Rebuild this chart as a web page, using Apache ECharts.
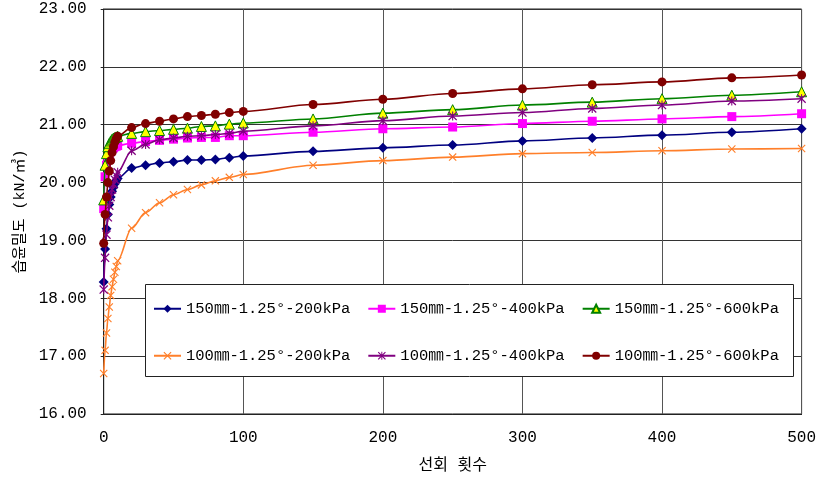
<!DOCTYPE html>
<html><head><meta charset="utf-8">
<script src="https://cdn.jsdelivr.net/npm/echarts@6/dist/echarts.min.js"></script>
<style>html,body{margin:0;padding:0;background:#fff}#c{width:819px;height:479px}</style>
</head><body><div id="c"></div>
<script>
// number of gyrations (x)
const cycles = [0,1,2,3,4,5,6,7,8,9,10,20,30,40,50,60,70,80,90,100,150,200,250,300,350,400,450,500];
const seriesNames = ['150㎜-1.25°-200kPa','150㎜-1.25°-400kPa','150㎜-1.25°-600kPa','100㎜-1.25°-200kPa','100㎜-1.25°-400kPa','100㎜-1.25°-600kPa'];
const s150_200 = [18.28,18.85,19.20,19.45,19.62,19.75,19.85,19.92,19.98,20.03,20.07,20.25,20.30,20.34,20.36,20.39,20.39,20.40,20.43,20.46,20.54,20.60,20.65,20.72,20.77,20.82,20.87,20.93];
const s150_400 = [19.55,20.10,20.30,20.42,20.50,20.55,20.58,20.60,20.62,20.63,20.64,20.68,20.71,20.73,20.75,20.77,20.78,20.78,20.81,20.81,20.87,20.93,20.96,21.02,21.06,21.10,21.14,21.19];
const s150_600 = [19.70,20.30,20.50,20.62,20.68,20.72,20.75,20.77,20.78,20.79,20.80,20.85,20.88,20.90,20.92,20.94,20.97,20.98,21.01,21.03,21.10,21.20,21.26,21.34,21.39,21.45,21.51,21.57];
const s100_200 = [16.70,17.10,17.40,17.65,17.85,18.05,18.20,18.33,18.45,18.55,18.65,19.21,19.48,19.65,19.79,19.88,19.96,20.03,20.09,20.14,20.30,20.38,20.44,20.50,20.52,20.55,20.58,20.59];
const s100_400 = [18.15,18.70,19.10,19.40,19.60,19.75,19.88,19.97,20.05,20.12,20.18,20.55,20.66,20.74,20.77,20.80,20.81,20.83,20.85,20.89,20.98,21.07,21.15,21.21,21.28,21.34,21.41,21.45];
const s100_600 = [18.95,19.45,19.75,20.00,20.20,20.38,20.52,20.62,20.70,20.76,20.80,20.95,21.02,21.06,21.10,21.14,21.16,21.18,21.21,21.23,21.35,21.44,21.54,21.62,21.69,21.74,21.81,21.86];

const X_PATH = 'path://M0,1L1,0L5,4L9,0L10,1L6,5L10,9L9,10L5,6L1,10L0,9L4,5Z';
const STAR_PATH = 'path://M0,1L1,0L5,4L9,0L10,1L6,5L10,9L9,10L5,6L1,10L0,9L4,5Z M4.4,0L5.6,0L5.6,10L4.4,10Z';

const styles = [
  {color:'#000080', symbol:'diamond', size:10},
  {color:'#FF00FF', symbol:'rect', size:9},
  {color:'#008000', symbol:'triangle', size:10, fill:'#FFFF00', border:'#008000'},
  {color:'#FF7F2A', symbol:X_PATH, size:8},
  {color:'#800080', symbol:STAR_PATH, size:9},
  {color:'#800000', symbol:'circle', size:9}
];
const allVals = [s150_200, s150_400, s150_600, s100_200, s100_400, s100_600];

const mono = "'Liberation Mono', 'Noto Sans CJK KR', monospace";
const series = allVals.map((vals, k) => {
  const st = styles[k];
  return {
    name: seriesNames[k],
    type: 'line',
    data: cycles.map((x, i) => [x, vals[i]]),
    smooth: 0.3,
    smoothMonotone: 'x',
    symbol: st.symbol,
    symbolSize: st.size,
    showAllSymbol: true,
    lineStyle: {color: st.color, width: 1.6},
    itemStyle: st.fill ? {color: st.fill, borderColor: st.border, borderWidth: 1} : {color: st.color, borderWidth: 0},
    emphasis: {disabled: true},
    z: 2 + k * 0.01
  };
});

const chart = echarts.init(document.getElementById('c'), null, {renderer: 'canvas'});
chart.setOption({
  animation: false,
  backgroundColor: '#fff',
  grid: {left: 103.7, right: 15.5, top: 9, bottom: 64.5, show: true, borderColor: '#222', borderWidth: 1, backgroundColor: 'transparent'},
  xAxis: {
    type: 'value', min: 0, max: 500, interval: 100,
    name: '선회 횟수', nameLocation: 'middle', nameGap: 44,
    nameTextStyle: {fontFamily: mono, fontSize: 16, color: '#000'},
    axisLine: {show: true, lineStyle: {color: '#222', width: 1}},
    axisTick: {show: false},
    axisLabel: {fontFamily: mono, fontSize: 16, color: '#000', margin: 16},
    splitLine: {show: true, lineStyle: {color: '#555', width: 1}}
  },
  yAxis: {
    type: 'value', min: 16, max: 23, interval: 1,
    name: '습윤밀도 (kN/㎥)', nameLocation: 'middle', nameGap: 73, nameRotate: 90,
    nameTextStyle: {fontFamily: mono, fontSize: 15, color: '#000'},
    axisLine: {show: true, lineStyle: {color: '#222', width: 1}},
    axisTick: {show: true, length: 3, lineStyle: {color: '#222'}},
    axisLabel: {fontFamily: mono, fontSize: 16, color: '#000', margin: 17, formatter: v => v.toFixed(2)},
    splitLine: {show: true, lineStyle: {color: '#333', width: 1}}
  },
  graphic: [{
    type: 'rect', z: 1,
    shape: {x: 145.5, y: 284.5, width: 648, height: 92},
    style: {fill: '#fff', stroke: '#222', lineWidth: 1}
  }],
  legend: [
    {data: seriesNames.slice(0, 3), left: 153, top: 301, padding: 0, itemGap: 17, itemWidth: 27, itemHeight: 10,
     textStyle: {fontFamily: mono, fontSize: 15.5, color: '#000'}, selectedMode: false},
    {data: seriesNames.slice(3), left: 153, top: 348, padding: 0, itemGap: 17, itemWidth: 27, itemHeight: 10,
     textStyle: {fontFamily: mono, fontSize: 15.5, color: '#000'}, selectedMode: false}
  ],
  series: series
});
</script></body></html>
